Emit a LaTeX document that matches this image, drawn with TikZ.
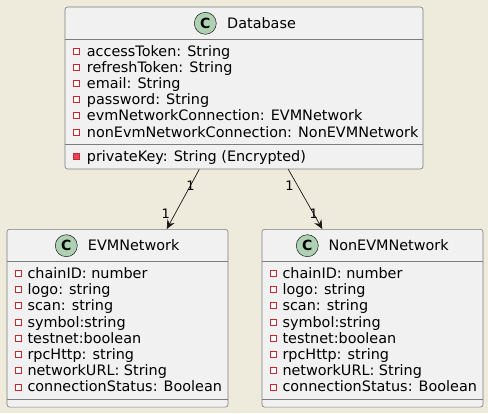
\documentclass[tikz,border=0pt]{standalone}
\usepackage{fontspec}
\setmainfont{DejaVu Sans}
\usetikzlibrary{arrows.meta,positioning}
\definecolor{bgcustom}{RGB}{238,235,220}
\definecolor{boxfill}{RGB}{241,241,241}
\definecolor{boxline}{RGB}{125,125,125}
\definecolor{linecustom}{RGB}{24,24,24}
\definecolor{circlefill}{RGB}{173,209,178}
\definecolor{privred}{RGB}{200,41,48}
\definecolor{privfill}{RGB}{226,70,88}

\tikzset{
  classbox/.style={draw=boxline, fill=boxfill, line width=0.6pt, rounded corners=2.5pt, inner sep=0pt},
  classicon/.style={circle, draw=linecustom, fill=circlefill, line width=0.5pt, minimum size=22pt, inner sep=0pt, font=\fontsize{14}{14}\selectfont\bfseries},
  classname/.style={anchor=base west, inner sep=0pt, font=\fontsize{14.4}{16}\selectfont},
  attr/.style={anchor=base west, inner sep=0pt, font=\fontsize{14.4}{16}\selectfont},
  privmark/.style={draw=privred, fill=white, line width=0.7pt, minimum size=6pt, inner sep=0pt},
  sepline/.style={draw=boxline, line width=0.6pt},
  assoc/.style={draw=linecustom, line width=0.7pt, -{Stealth[length=9pt,width=8pt,inset=3pt]}},
  mult/.style={inner sep=0pt, font=\fontsize{13}{13}\selectfont}
}

\begin{document}
\begin{tikzpicture}[x=1pt, y=-1pt]
        \useasboundingbox[fill=bgcustom] (0,0) rectangle (488,413);

        % Database class
        \node[classbox, minimum width=358pt, minimum height=162pt] (db) at (244,88) {};
        \node[classicon] (dbicon) at (205.3,23.3) {C};
        \node[classname] (dbname) at (227,28.3) {Database};
        \draw[sepline] (db.west |- 0,39) -- (db.east |- 0,39);
        \foreach \t [count=\i] in {accessToken: String, refreshToken: String, email: String, password: String, evmNetworkConnection: EVMNetwork, nonEvmNetworkConnection: NonEVMNetwork} {
            \node[privmark] (dbm\i) at (76,{51+16.2*(\i-1)}) {};
            \node[attr] (dba\i) at (86.7,{56+16.2*(\i-1)}) {\t};
        }
        \draw[sepline] (db.west |- 0,144.3) -- (db.east |- 0,144.3);
        \node[privmark, fill=privfill] (dbm7) at (76,156.7) {};
        \node[attr] (dba7) at (86.7,161.7) {privateKey: String (Encrypted)};

        % EVMNetwork and NonEVMNetwork classes
        \node[classbox, minimum width=221pt, minimum height=177.7pt] (evm) at (117.5,318.2) {};
        \node[classbox, minimum width=221pt, minimum height=177.7pt] (nonevm) at (372.5,318.2) {};
        \node[classicon] (evmicon) at (66.3,245.7) {C};
        \node[classname] (evmname) at (87.7,250.7) {EVMNetwork};
        \node[classicon] (nonevmicon) at (307.3,245.7) {C};
        \node[classname] (nonevmname) at (328.3,250.7) {NonEVMNetwork};
        \foreach \b/\x in {evm/18.3, nonevm/273.3} {
            \draw[sepline] (\b.west |- 0,261) -- (\b.east |- 0,261);
            \draw[sepline] (\b.west |- 0,399) -- (\b.east |- 0,399);
            \foreach \t [count=\i] in {chainID: number, logo: string, scan: string, symbol:string, testnet:boolean, rpcHttp: string, networkURL: String, connectionStatus: Boolean} {
                \node[privmark] (\b m\i) at (\x,{273.3+16.24*(\i-1)}) {};
                \node[attr] (\b a\i) at (\x+9,{278.3+16.24*(\i-1)}) {\t};
            }
        }

        % Associations
        \draw[assoc] ([xshift=-44.7pt]db.south) -- node[mult, pos=.27] {1} node[mult, pos=.75, xshift=-9pt] {1} ([xshift=49.2pt]evm.north);
        \draw[assoc] ([xshift=44.3pt]db.south) -- node[mult, pos=.27, xshift=-8pt] {1} node[mult, pos=.75] {1} ([xshift=-50.2pt]nonevm.north);
    \end{tikzpicture}
\end{document}
